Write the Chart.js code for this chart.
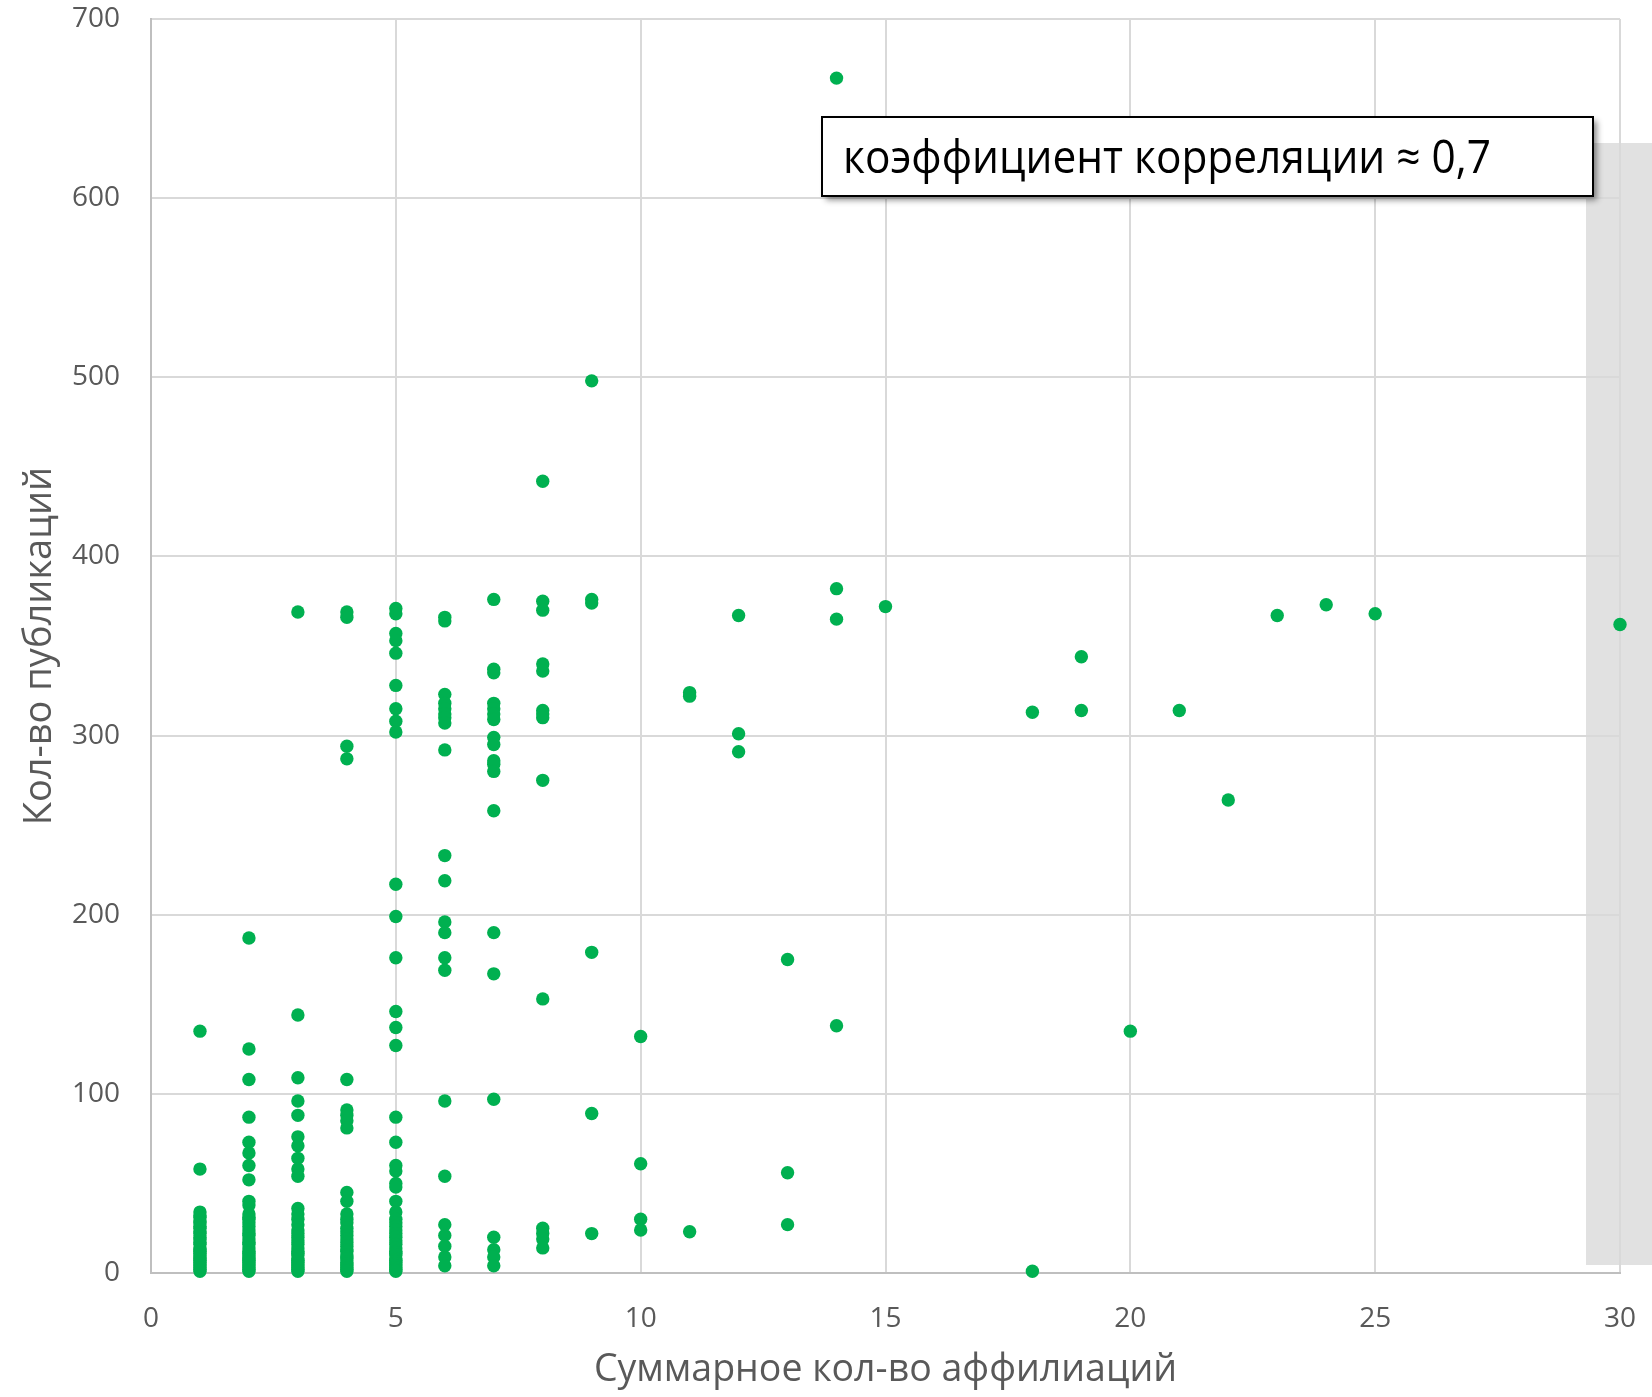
<!DOCTYPE html>
<html>
<head>
<meta charset="utf-8">
<title>Публикации и аффилиации</title>
<script src="https://cdn.jsdelivr.net/npm/chart.js@4.4.1/dist/chart.umd.min.js"></script>
<style>
  body { margin: 0; background: #fff; }
  #wrap { width: 1652px; height: 1397px; }
</style>
</head>
<body>
<div id="wrap"><canvas id="scatter" width="1652" height="1397"></canvas></div>
<script>
// кол-во публикаций для каждого значения суммарного кол-ва аффилиаций
var pubs1 = [135, 58, 34, 32, 31, 29, 28, 26, 25, 23, 22, 20, 19, 17, 16, 14, 13, 12, 11, 10, 9, 8, 7, 6, 5, 4, 3, 2, 1];
var pubs2 = [187, 125, 108, 87, 73, 67, 60, 52, 40, 38, 33, 31, 30, 28, 26, 24, 22, 21, 19, 17, 16, 14, 12, 11, 10, 9, 8, 7, 6, 5, 4, 3, 2, 1];
var pubs3 = [369, 144, 109, 96, 88, 76, 71, 64, 58, 54, 36, 33, 30, 27, 24, 22, 20, 18, 16, 14, 12, 11, 10, 8, 7, 6, 5, 4, 3, 2, 1];
var pubs4 = [369, 366, 294, 287, 108, 91, 88, 85, 81, 45, 40, 33, 30, 28, 25, 23, 21, 19, 17, 15, 13, 12, 10, 9, 8, 6, 5, 4, 3, 2, 1];
var pubs5 = [371, 368, 357, 353, 346, 328, 315, 308, 302, 217, 199, 176, 146, 137, 127, 87, 73, 60, 57, 50, 48, 40, 34, 30, 28, 26, 24, 22, 20, 18, 16, 14, 12, 11, 10, 8, 7, 6, 5, 4, 3, 2, 1];
var pubs6 = [366, 364, 323, 318, 315, 312, 310, 307, 292, 233, 219, 196, 190, 176, 169, 96, 54, 27, 21, 15, 9, 4];
var pubs7 = [376, 337, 335, 318, 315, 312, 309, 299, 295, 286, 284, 280, 258, 190, 167, 97, 20, 13, 9, 4];
var pubs8 = [442, 375, 370, 340, 336, 314, 312, 310, 275, 153, 25, 22, 19, 14];
var pubs9 = [498, 376, 374, 179, 89, 22];
var pubs10 = [132, 61, 30, 24];
var pubs11 = [324, 322, 23];
var pubs12 = [367, 301, 291];
var pubs13 = [175, 56, 27];
var pubs14 = [667, 382, 365, 138];
var pubs15 = [372];
var pubs18 = [313, 1];
var pubs19 = [344, 314];
var pubs20 = [135];
var pubs21 = [314];
var pubs22 = [264];
var pubs23 = [367];
var pubs24 = [373];
var pubs25 = [368];
var pubs30 = [362];

var affiliations = [1, 2, 3, 4, 5, 6, 7, 8, 9, 10, 11, 12, 13, 14, 15, 18, 19, 20, 21, 22, 23, 24, 25, 30];
var publications = [pubs1, pubs2, pubs3, pubs4, pubs5, pubs6, pubs7, pubs8, pubs9, pubs10, pubs11, pubs12,
                    pubs13, pubs14, pubs15, pubs18, pubs19, pubs20, pubs21, pubs22, pubs23, pubs24, pubs25, pubs30];

var xTicks = [0, 5, 10, 15, 20, 25, 30];
var yTicks = [0, 100, 200, 300, 400, 500, 600, 700];

var xTitle = 'Суммарное кол-во аффилиаций';
var yTitle = 'Кол-во публикаций';
var corrLabel = 'коэффициент корреляции ≈ 0,7';

var textGrey = '#595959';


function getPoints() {

  var points = [];

  for (var i = 0; i < affiliations.length; i++) {
    var list = publications[i];

    for (var j = 0; j < list.length; j++) {
      points.push({ x: affiliations[i], y: list[j] });
    }
  }
  return points;
}


// серая плашка справа, за областью графика
var sidePanel = {
  id: 'sidePanel',
  beforeDraw: function(chart) {
    var ctx = chart.ctx;
    ctx.save();
    ctx.fillStyle = '#e1e1e1';
    ctx.fillRect(1586, 143, chart.width - 1586, 1265 - 143);
    ctx.restore();
  }
};

// подпись с коэффициентом корреляции
var corrBox = {
  id: 'corrBox',
  afterDraw: function(chart) {
    var ctx = chart.ctx;
    var left = 822, top = 117, w = 771, h = 79;

    ctx.save();
    ctx.shadowColor = 'rgba(0, 0, 0, 0.45)';
    ctx.shadowBlur = 6;
    ctx.shadowOffsetX = 4;
    ctx.shadowOffsetY = 4;
    ctx.fillStyle = '#fff';
    ctx.fillRect(left, top, w, h);

    ctx.shadowColor = 'transparent';
    ctx.lineWidth = 2;
    ctx.strokeStyle = '#000';
    ctx.strokeRect(left, top, w, h);

    ctx.font = '46px "Open Sans"';
    ctx.fillStyle = '#000';
    ctx.textBaseline = 'alphabetic';
    var natural = ctx.measureText(corrLabel).width;
    ctx.translate(843, 173);
    ctx.scale(648 / natural, 1);
    ctx.fillText(corrLabel, 0, 0);
    ctx.restore();
  }
};


function getChart() {

  var ctx = document.getElementById('scatter').getContext('2d');

  var chart = new Chart(ctx, {
    type: 'scatter',

    data: {
      datasets: [{
        label: yTitle,
        data: getPoints(),
        backgroundColor: '#00b050',
        borderWidth: 0,
        pointRadius: 6.7,
        pointHoverRadius: 6.7,
        // точки на краях рисуются целиком
        clip: false
      }]
    },

    options: {
      responsive: false,
      animation: false,
      layout: {
        padding: { left: 0, top: 19, right: 32, bottom: 0 }
      },
      plugins: {
        legend: { display: false },
        tooltip: { enabled: false }
      },
      scales: {
        x: {
          type: 'linear',
          min: xTicks[0],
          max: xTicks[xTicks.length - 1],
          ticks: {
            stepSize: xTicks[1] - xTicks[0],
            color: textGrey,
            padding: 29,
            font: { family: 'Open Sans', size: 28 }
          },
          grid: { color: '#d9d9d9', lineWidth: 2, drawTicks: false },
          border: { color: '#bfbfbf', width: 2 },
          title: {
            display: true,
            text: xTitle,
            color: textGrey,
            font: { family: 'Open Sans', size: 37.5, lineHeight: 1.2 },
            padding: { top: 0, bottom: 4 }
          },
          afterFit: function(scale) {
            // высота оси фиксирована, боковые отступы под подписи не нужны
            scale.height = 124;
            scale.paddingLeft = 0;
            scale.paddingRight = 0;
          }
        },
        y: {
          type: 'linear',
          min: yTicks[0],
          max: yTicks[yTicks.length - 1],
          ticks: {
            stepSize: yTicks[1] - yTicks[0],
            color: textGrey,
            padding: 31,
            font: { family: 'Open Sans', size: 28 }
          },
          grid: { color: '#d9d9d9', lineWidth: 2, drawTicks: false },
          border: { color: '#bfbfbf', width: 2 },
          title: {
            display: true,
            text: yTitle,
            color: textGrey,
            font: { family: 'Open Sans', size: 38, lineHeight: 1.2 },
            padding: { top: 17, bottom: 0 }
          },
          afterFit: function(scale) {
            scale.width = 151;
            scale.paddingTop = 0;
            scale.paddingBottom = 0;
          }
        }
      }
    },

    plugins: [sidePanel, corrBox]
  });
}

getChart();
</script>
</body>
</html>
